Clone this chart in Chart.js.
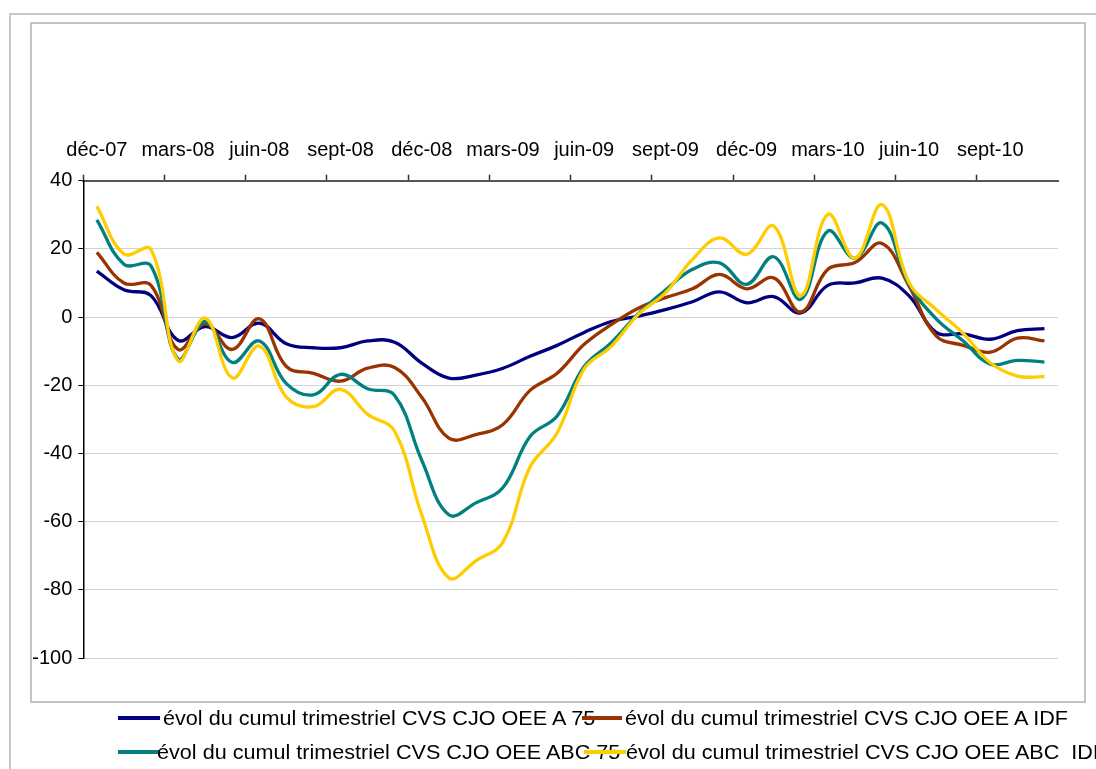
<!DOCTYPE html>
<html>
<head>
<meta charset="utf-8">
<script src="https://cdn.jsdelivr.net/npm/chart.js@4"></script>
<style>
  html, body { margin: 0; padding: 0; background: #fff; }
  #wrap { position: relative; width: 1096px; height: 769px; overflow: hidden; font-family: "Liberation Sans", Arial, sans-serif; }
  #outer { position: absolute; left: 9px; top: 13px; width: 1200px; height: 900px; border-top: 2px solid #c8c8c8; border-left: 2px solid #c8c8c8; }
  #box { position: absolute; left: 30px; top: 22px; width: 1052px; height: 677px; border: 2px solid #c4c4c4; }
  canvas { position: absolute; left: 0; top: 0; }
  .txt { position: absolute; white-space: pre; font-size: 20px; line-height: 20px; color: #000; transform-origin: left center; transform: scaleX(1.08); }
  .mk { position: absolute; height: 4px; }
</style>
</head>
<body>
<div id="wrap">
  <div id="outer"></div>
  <div id="box"></div>
  <canvas id="chart" width="1096" height="769"></canvas>
  <div id="legend"></div>
</div>
<script>
// mois (déc-07 -> nov-10)
const months = [
  'déc-07', 'janv-08', 'févr-08', 'mars-08', 'avr-08', 'mai-08', 'juin-08', 'juil-08', 'août-08', 'sept-08', 'oct-08', 'nov-08',
  'déc-08', 'janv-09', 'févr-09', 'mars-09', 'avr-09', 'mai-09', 'juin-09', 'juil-09', 'août-09', 'sept-09', 'oct-09', 'nov-09',
  'déc-09', 'janv-10', 'févr-10', 'mars-10', 'avr-10', 'mai-10', 'juin-10', 'juil-10', 'août-10', 'sept-10', 'oct-10', 'nov-10'
];

const seriesNames = [
  'évol du cumul trimestriel CVS CJO OEE A 75',
  'évol du cumul trimestriel CVS CJO OEE A IDF',
  'évol du cumul trimestriel CVS CJO OEE ABC 75',
  'évol du cumul trimestriel CVS CJO OEE ABC  IDF'
];

const oeeA75 = [13.5, 8, 6.3, -6.8, -2.8, -6, -1.8, -7.8, -9, -9, -7, -7.4,
  -13.5, -17.9, -17, -15, -11.5, -8.3, -4.5, -1.3, 0.3, 2.2, 4.5, 7.4,
  4.2, 6, 1.2, 9.3, 10, 11.4, 6.2, -4.5, -4.9, -6.5, -4, -3.4];

const oeeAIdf = [19, 10, 9.3, -9.5, -2, -9.5, -0.5, -14.5, -16.5, -18.8, -15, -14.8,
  -23.5, -35.5, -34.5, -31.5, -21.5, -16.5, -8, -2.2, 2.6, 5.7, 8.3, 12.5,
  8.3, 11.5, 1.5, 14, 16, 21.6, 9.1, -5.5, -8.3, -10.3, -6.2, -7];

const oeeABC75 = [28.5, 15.5, 15, -12.3, -1.3, -13.3, -7, -19.5, -22.8, -16.8, -21, -23,
  -42, -58, -54.5, -50, -35, -29, -14.5, -7.5, 1, 7.9, 14, 15.9,
  9.6, 17.7, 5.2, 25.2, 17.3, 27.6, 9.6, -0.5, -7, -13.8, -12.7, -13.2];

const oeeABCIdf = [32.5, 18.5, 19.8, -12.8, -0.3, -17.8, -8.5, -23.5, -26.3, -21.2, -28.5, -33.5,
  -58, -76.5, -71.5, -66, -44, -34, -15.2, -8.6, 0.8, 7.1, 16.9, 23.2,
  18.4, 26.7, 6.2, 30.1, 17.3, 33, 10.1, 2.2, -4.8, -13.4, -17.3, -17.5];

const colors = ['#000080', '#993300', '#008080', '#ffcc00'];
const allSeries = [oeeA75, oeeAIdf, oeeABC75, oeeABCIdf];

const font = { family: '"Liberation Sans", Arial, sans-serif', size: 20 };

const chart = new Chart(document.getElementById('chart'), {
  type: 'line',
  data: {
    labels: months,
    datasets: allSeries.map((d, i) => ({
      label: seriesNames[i],
      data: d,
      borderColor: colors[i],
      backgroundColor: colors[i],
      borderWidth: 3.3,
      pointRadius: 0,
      tension: 0.4,
      fill: false,
      order: 3 - i
    }))
  },
  options: {
    responsive: false,
    animation: false,
    layout: { padding: { left: 27, top: 121, right: 38, bottom: 111 } },
    plugins: { legend: { display: false }, tooltip: { enabled: false } },
    scales: {
      x: {
        position: 'top',
        offset: true,
        afterFit: (s) => { s.height = 59.7; },
        grid: {
          offset: true,
          drawOnChartArea: false,
          drawTicks: true,
          tickLength: 6,
          tickColor: (c) => (c.index % 3 === 0 ? '#333' : 'rgba(0,0,0,0)'),
          tickWidth: 1.5
        },
        border: { display: true, color: '#555', width: 2 },
        ticks: {
          autoSkip: false,
          maxRotation: 0,
          minRotation: 0,
          padding: 12,
          color: '#000',
          font: font,
          callback: (v, i) => (i % 3 === 0 ? months[i] : '')
        }
      },
      y: {
        min: -100,
        max: 40,
        afterFit: (s) => { s.width = 56.3; },
        grid: {
          color: '#d2d2d2',
          borderDash: [2, 2],
          lineWidth: 1,
          drawTicks: true,
          tickLength: 5,
          tickColor: '#000'
        },
        border: { display: true, color: '#000', width: 1.5 },
        ticks: { stepSize: 20, padding: 6, color: '#000', font: font }
      }
    }
  }
});

// légende façon Excel (entrées qui se chevauchent)
const legendSlots = [
  { mk: 118, mw: 42, tx: 163, y: 718 },
  { mk: 582, mw: 40, tx: 625, y: 718 },
  { mk: 118, mw: 42, tx: 157, y: 752 },
  { mk: 584, mw: 42, tx: 626, y: 752 }
];
const leg = document.getElementById('legend');
legendSlots.forEach((p, i) => {
  const m = document.createElement('div');
  m.className = 'mk';
  m.style.left = p.mk + 'px';
  m.style.width = p.mw + 'px';
  m.style.top = (p.y - 2) + 'px';
  m.style.background = colors[i];
  leg.appendChild(m);
  const t = document.createElement('div');
  t.className = 'txt';
  t.style.left = p.tx + 'px';
  t.style.top = (p.y - 10) + 'px';
  t.textContent = seriesNames[i];
  leg.appendChild(t);
});
</script>
</body>
</html>
